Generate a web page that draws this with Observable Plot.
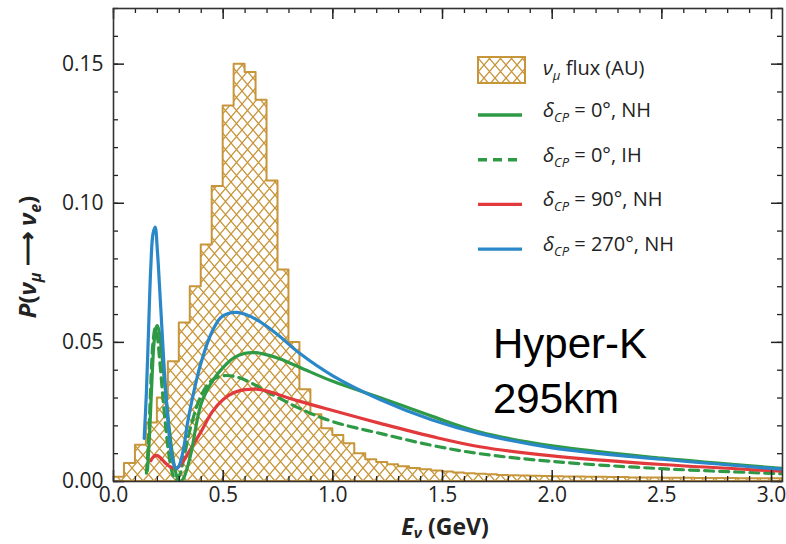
<!DOCTYPE html>
<html>
<head>
<meta charset="utf-8">
<script src="https://cdn.jsdelivr.net/npm/d3@7"></script>
<script src="https://cdn.jsdelivr.net/npm/@observablehq/plot@0.6"></script>
<style>
  body { margin: 0; background: #fff; }
  #chart { width: 786px; height: 544px; }
  #chart svg { display: block; }
</style>
</head>
<body>
<div id="chart"></div>
<script>
// νμ flux histogram (arbitrary units), bins of 0.05 GeV starting at 0
const fluxBinWidth = 0.05;
const fluxValues = [
  0.0015, 0.0065, 0.013, 0.021, 0.030, 0.043, 0.057, 0.070, 0.085, 0.106,
  0.135, 0.150, 0.147, 0.137, 0.108, 0.076, 0.050, 0.033, 0.024, 0.019,
  0.0165, 0.0136, 0.010, 0.0078, 0.0068, 0.0060, 0.0053, 0.0047, 0.0042, 0.0038,
  0.0034, 0.0031, 0.0028, 0.0026, 0.0024, 0.0022, 0.0021, 0.0020, 0.0019, 0.0018,
  0.0017, 0.0016, 0.0016, 0.0015, 0.0015, 0.0014, 0.0014, 0.0013, 0.0013, 0.0013,
  0.0012, 0.0012, 0.0012, 0.0011, 0.0011, 0.0011, 0.0011, 0.0010, 0.0010, 0.0010, 0.0010
];

// P(νμ → νe) versus neutrino energy (GeV) for each scenario
const energyCP0NH = [0.155, 0.165, 0.175, 0.185, 0.195, 0.20, 0.21, 0.22, 0.23, 0.24, 0.25, 0.26, 0.27, 0.28, 0.29, 0.30, 0.307, 0.32, 0.35, 0.40, 0.45, 0.50, 0.55, 0.60, 0.65, 0.70, 0.76, 0.85, 1.00, 1.22, 1.45, 1.67, 2.00, 2.50, 3.05];
const probCP0NH   = [0.004, 0.018, 0.036, 0.050, 0.0555, 0.056, 0.053, 0.046, 0.038, 0.030, 0.022, 0.015, 0.009, 0.0045, 0.0015, 0.0003, 0.0001, 0.0012, 0.009, 0.028, 0.036, 0.041, 0.0445, 0.0461, 0.0463, 0.0455, 0.0440, 0.0410, 0.0360, 0.0300, 0.0235, 0.0178, 0.0128, 0.0084, 0.0047];

const energyCP0IH = [0.15, 0.16, 0.17, 0.18, 0.19, 0.20, 0.21, 0.22, 0.23, 0.24, 0.25, 0.26, 0.27, 0.284, 0.30, 0.32, 0.35, 0.40, 0.45, 0.50, 0.55, 0.60, 0.65, 0.70, 0.76, 0.85, 1.00, 1.22, 1.45, 1.67, 2.00, 2.50, 3.05];
const probCP0IH   = [0.003, 0.015, 0.035, 0.050, 0.055, 0.052, 0.044, 0.035, 0.026, 0.018, 0.011, 0.006, 0.0025, 0.0005, 0.002, 0.008, 0.019, 0.031, 0.0365, 0.0380, 0.0378, 0.0365, 0.0345, 0.0322, 0.0298, 0.0262, 0.0215, 0.0172, 0.0130, 0.0100, 0.0072, 0.0046, 0.0028];

const energyCP90NH = [0.17, 0.18, 0.19, 0.20, 0.21, 0.22, 0.24, 0.26, 0.284, 0.30, 0.32, 0.35, 0.40, 0.45, 0.50, 0.55, 0.60, 0.65, 0.70, 0.76, 0.85, 1.00, 1.22, 1.45, 1.67, 2.00, 2.50, 3.05];
const probCP90NH   = [0.0075, 0.0087, 0.0093, 0.0093, 0.0088, 0.0080, 0.0064, 0.0052, 0.0047, 0.0055, 0.0075, 0.0115, 0.018, 0.025, 0.0295, 0.032, 0.0330, 0.0332, 0.0325, 0.0310, 0.0288, 0.0255, 0.0208, 0.0162, 0.0125, 0.0092, 0.0061, 0.0037];

const energyCP270NH = [0.14, 0.15, 0.16, 0.17, 0.18, 0.19, 0.20, 0.21, 0.22, 0.23, 0.24, 0.25, 0.26, 0.27, 0.28, 0.289, 0.30, 0.32, 0.337, 0.36, 0.398, 0.45, 0.49, 0.52, 0.56, 0.60, 0.65, 0.70, 0.76, 0.85, 1.00, 1.22, 1.45, 1.67, 2.00, 2.50, 3.05];
const probCP270NH   = [0.0155, 0.032, 0.055, 0.077, 0.089, 0.0914, 0.083, 0.070, 0.056, 0.042, 0.030, 0.020, 0.012, 0.0075, 0.0052, 0.0047, 0.0058, 0.012, 0.0208, 0.030, 0.0424, 0.054, 0.059, 0.0603, 0.0608, 0.0601, 0.0583, 0.0557, 0.0520, 0.0460, 0.0380, 0.0293, 0.0222, 0.0172, 0.0121, 0.0080, 0.0044];

// axis ticks
const xMajorTicks = [0, 0.5, 1.0, 1.5, 2.0, 2.5, 3.0];
const xMinorTicks = d3.range(0, 31).map(i => i / 10);
const yMajorTicks = [0, 0.05, 0.10, 0.15];
const yMinorTicks = d3.range(0, 18).map(i => i / 100);

// legend entries
const legendLabels = ["0°, NH", "0°, IH", "90°, NH", "270°, NH"];

const gold = "#c8963a";
const green = "#2f9a45";
const red = "#e23a3c";
const blue = "#2a87c8";

// histogram as a stepped area: left edge of every bin plus the closing right edge
const fluxSteps = fluxValues.map((v, i) => ({e: i * fluxBinWidth, p: v}));
fluxSteps.push({e: fluxValues.length * fluxBinWidth, p: fluxValues[fluxValues.length - 1]});

const toRows = (es, ps) => es.map((e, i) => ({e, p: ps[i]}));
const cp0nh = toRows(energyCP0NH, probCP0NH);
const cp0ih = toRows(energyCP0IH, probCP0IH);
const cp90nh = toRows(energyCP90NH, probCP90NH);
const cp270nh = toRows(energyCP270NH, probCP270NH);

const W = 786, H = 544;
const mL = 113, mR = 4, mT = 8, mB = 63;
const innerH = H - mT - mB, innerW = W - mL - mR;
const major = 11, minor = 5;

const plot = Plot.plot({
  width: W,
  height: H,
  marginLeft: mL,
  marginRight: mR,
  marginTop: mT,
  marginBottom: mB,
  style: {fontFamily: "'Open Sans', sans-serif", fontSize: "21px", color: "#222", background: "#fff"},
  x: {domain: [0, 3.05]},
  y: {domain: [0, 0.17]},
  marks: [
    Plot.areaY(fluxSteps, {x: "e", y: "p", curve: "step-after", fill: "url(#flux-hatch)", stroke: gold, strokeWidth: 2, clip: true}),
    Plot.line(cp0ih, {x: "e", y: "p", curve: "catmull-rom", stroke: green, strokeWidth: 3.2, strokeDasharray: "9,6", clip: true}),
    Plot.line(cp90nh, {x: "e", y: "p", curve: "catmull-rom", stroke: red, strokeWidth: 3.2, clip: true}),
    Plot.line(cp0nh, {x: "e", y: "p", curve: "catmull-rom", stroke: green, strokeWidth: 3.2, clip: true}),
    Plot.line(cp270nh, {x: "e", y: "p", curve: "catmull-rom", stroke: blue, strokeWidth: 3.2, clip: true}),
    // inward ticks on all four sides
    Plot.tickX(xMinorTicks, {x: d => d, insetTop: innerH - minor, stroke: "#222", strokeWidth: 1.3}),
    Plot.tickX(xMinorTicks, {x: d => d, insetBottom: innerH - minor, stroke: "#222", strokeWidth: 1.3}),
    Plot.tickX(xMajorTicks, {x: d => d, insetTop: innerH - major, stroke: "#222", strokeWidth: 1.5}),
    Plot.tickX(xMajorTicks, {x: d => d, insetBottom: innerH - major, stroke: "#222", strokeWidth: 1.5}),
    Plot.tickY(yMinorTicks, {y: d => d, insetRight: innerW - minor, stroke: "#222", strokeWidth: 1.3}),
    Plot.tickY(yMinorTicks, {y: d => d, insetLeft: innerW - minor, stroke: "#222", strokeWidth: 1.3}),
    Plot.tickY(yMajorTicks, {y: d => d, insetRight: innerW - major, stroke: "#222", strokeWidth: 1.5}),
    Plot.tickY(yMajorTicks, {y: d => d, insetLeft: innerW - major, stroke: "#222", strokeWidth: 1.5}),
    Plot.axisX(xMajorTicks, {tickSize: 0, tickPadding: 6, tickFormat: d3.format(".1f"), label: null, fontSize: 21}),
    Plot.axisY(yMajorTicks, {tickSize: 0, tickPadding: 10, tickFormat: d3.format(".2f"), label: null, fontSize: 21}),
    Plot.frame({stroke: "#333", strokeWidth: 1.6})
  ]
});

const svg = d3.select(plot);

// cross-hatch fill for the flux histogram
svg.insert("defs", ":first-child").html(`
  <pattern id="flux-hatch" patternUnits="userSpaceOnUse" width="11" height="13">
    <rect width="11" height="13" fill="#fff"/>
    <path d="M0,0L11,13M11,0L0,13" stroke="${gold}" stroke-width="1.3"/>
  </pattern>`);

const sans = "'Open Sans', sans-serif";

// axis titles
svg.append("text")
  .attr("transform", "translate(36,257) rotate(-90)")
  .attr("text-anchor", "middle")
  .attr("font-family", sans).attr("font-size", 24).attr("font-weight", "bold").attr("fill", "#222")
  .html(`<tspan font-style="italic">P</tspan>(<tspan font-style="italic">ν</tspan><tspan font-size="16" dy="5" font-style="italic">μ</tspan><tspan dy="-5"> ⟶ </tspan><tspan font-style="italic">ν</tspan><tspan font-size="16" dy="5" font-style="italic">e</tspan><tspan dy="-5">)</tspan>`);

svg.append("text")
  .attr("x", 445).attr("y", 535)
  .attr("text-anchor", "middle")
  .attr("font-family", sans).attr("font-size", 23).attr("font-weight", "bold").attr("fill", "#222")
  .html(`<tspan font-style="italic">E</tspan><tspan font-size="15" dy="3" font-style="italic">ν</tspan><tspan dy="-3"> (GeV)</tspan>`);

// legend
const lg = svg.append("g").attr("font-family", sans).attr("font-size", 20).attr("fill", "#222").attr("text-anchor", "start");
lg.append("rect").attr("x", 478).attr("y", 57).attr("width", 47).attr("height", 26)
  .attr("fill", "url(#flux-hatch)").attr("stroke", gold).attr("stroke-width", 2);
lg.append("text").attr("x", 543).attr("y", 75)
  .html(`<tspan font-style="italic">ν</tspan><tspan font-size="13" dy="5" font-style="italic">μ</tspan><tspan dy="-5"> flux (AU)</tspan>`);

const legendStyles = [
  {stroke: green, dash: null},
  {stroke: green, dash: "9,6"},
  {stroke: red, dash: null},
  {stroke: blue, dash: null}
];
legendLabels.forEach((label, i) => {
  const yLine = 115 + i * 44.7;
  lg.append("line").attr("x1", 478).attr("x2", 522).attr("y1", yLine).attr("y2", yLine)
    .attr("stroke", legendStyles[i].stroke).attr("stroke-width", 3.4)
    .attr("stroke-dasharray", legendStyles[i].dash);
  lg.append("text").attr("x", 543).attr("y", yLine + 2)
    .html(`<tspan font-style="italic">δ</tspan><tspan font-size="13" dy="5" font-style="italic">CP</tspan><tspan dy="-5"> = ${label}</tspan>`);
});

// experiment annotation
const note = svg.append("g").attr("font-family", "'Liberation Sans', Arial, sans-serif").attr("font-size", 42).attr("fill", "#000").attr("text-anchor", "start");
note.append("text").attr("x", 493).attr("y", 358).text("Hyper-K");
note.append("text").attr("x", 493).attr("y", 413).text("295km");

document.getElementById("chart").appendChild(plot);
</script>
</body>
</html>
